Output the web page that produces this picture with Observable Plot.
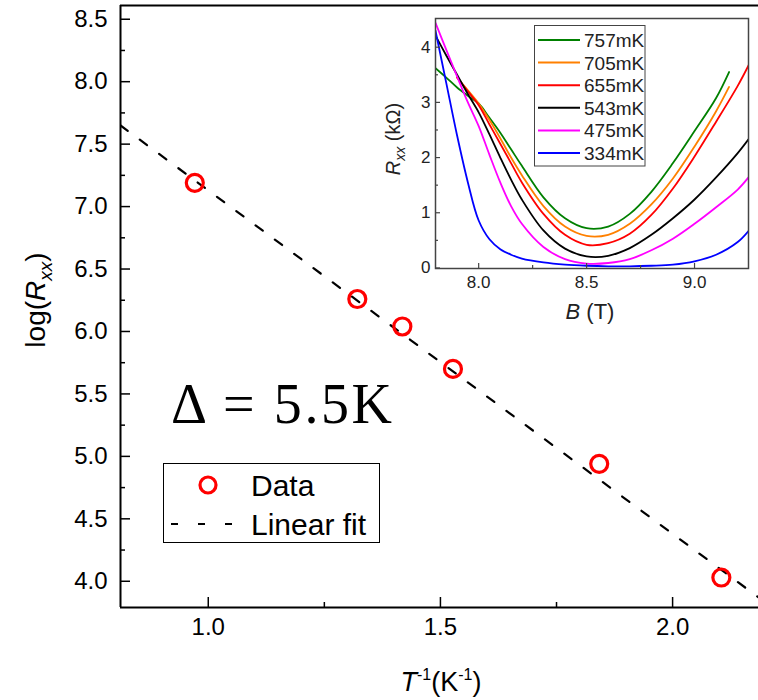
<!DOCTYPE html>
<html>
<head>
<meta charset="utf-8">
<script src="https://cdn.jsdelivr.net/npm/d3@7"></script>
<script src="https://cdn.jsdelivr.net/npm/@observablehq/plot@0.6"></script>
<style>
  body { margin: 0; background: white; }
  #wrap { position: relative; width: 758px; height: 700px; font-family: "Liberation Sans", Arial, sans-serif; }
  #wrap svg { position: absolute; }
</style>
</head>
<body>
<div id="wrap"></div>
<script>
// ---------- main data ----------
const invT = [0.971, 1.321, 1.418, 1.527, 1.842, 2.105];
const logR = [7.19, 6.26, 6.04, 5.70, 4.94, 4.03];
const fitSlope = -2.75;
const fitIntercept = 9.88;
const xDom = [0.811, 2.185];
const yDom = [3.79, 8.61];
const xMajor = [1.0, 1.5, 2.0];
const xMinor = [1.25, 1.75];
const yMajor = [4.0, 4.5, 5.0, 5.5, 6.0, 6.5, 7.0, 7.5, 8.0, 8.5];
const yMinor = [4.25, 4.75, 5.25, 5.75, 6.25, 6.75, 7.25, 7.75, 8.25];

// ---------- inset data ----------
const seriesNames = ["757mK", "705mK", "655mK", "543mK", "475mK", "334mK"];
const seriesColors = ["#008000", "#ff8000", "#ff0000", "#000000", "#ff00ff", "#0000ff"];
const gridB = [7.8, 7.85, 7.9, 7.95, 8.0, 8.05, 8.1, 8.15, 8.2, 8.3, 8.4, 8.5, 8.6, 8.7, 8.8, 8.9, 9.0, 9.1, 9.2, 9.25];
const B757 = [7.8, 7.85, 7.9, 7.95, 8.0, 8.05, 8.1, 8.15, 8.2, 8.3, 8.4, 8.5, 8.6, 8.7, 8.8, 8.9, 9.0, 9.1, 9.16];
const R757 = [3.62, 3.45, 3.27, 3.12, 2.98, 2.72, 2.45, 2.15, 1.85, 1.28, 0.90, 0.72, 0.75, 0.98, 1.38, 1.90, 2.48, 3.08, 3.55];
const B705 = [7.9, 7.95, 8.0, 8.05, 8.1, 8.15, 8.2, 8.3, 8.4, 8.5, 8.6, 8.7, 8.8, 8.9, 9.0, 9.1, 9.16];
const R705 = [3.45, 3.22, 2.98, 2.68, 2.35, 2.00, 1.68, 1.12, 0.75, 0.58, 0.60, 0.80, 1.15, 1.62, 2.20, 2.84, 3.28];
const B655 = [7.9, 7.95, 8.0, 8.05, 8.1, 8.15, 8.2, 8.3, 8.4, 8.5, 8.6, 8.7, 8.8, 8.9, 9.0, 9.1, 9.2, 9.25];
const R655 = [3.45, 3.20, 2.95, 2.60, 2.25, 1.90, 1.55, 0.98, 0.60, 0.42, 0.45, 0.62, 0.96, 1.44, 2.02, 2.65, 3.30, 3.67];
const R543 = [4.21, 3.85, 3.50, 3.15, 2.82, 2.42, 2.00, 1.60, 1.24, 0.68, 0.35, 0.21, 0.22, 0.36, 0.60, 0.90, 1.24, 1.64, 2.08, 2.33];
const R475 = [4.44, 3.95, 3.47, 3.00, 2.57, 2.05, 1.55, 1.12, 0.80, 0.38, 0.16, 0.08, 0.09, 0.16, 0.32, 0.53, 0.80, 1.10, 1.42, 1.64];
const R334 = [4.30, 3.35, 2.40, 1.55, 0.86, 0.52, 0.34, 0.24, 0.17, 0.10, 0.06, 0.04, 0.03, 0.03, 0.04, 0.06, 0.12, 0.24, 0.47, 0.67];

// ---------- build tables ----------
const pts = invT.map((x, i) => ({x, y: logR[i]}));
const fit = xDom.map(x => ({x, y: fitIntercept + fitSlope * x}));
const curves = [];
const addSeries = (name, Bs, Rs) => Bs.forEach((b, i) => curves.push({series: name, B: b, R: Rs[i]}));
addSeries("757mK", B757, R757);
addSeries("705mK", B705, R705);
addSeries("655mK", B655, R655);
addSeries("543mK", gridB, R543);
addSeries("475mK", gridB, R475);
addSeries("334mK", gridB, R334);

const W = 758, H = 700, mL = 120, mR = 0, mT = 5, mB = 93;
const fW = W - mL - mR, fH = H - mT - mB;
const font = "'Liberation Sans', Arial, sans-serif";

const main = Plot.plot({
  width: W, height: H,
  marginLeft: mL, marginRight: mR, marginTop: mT, marginBottom: mB,
  x: {domain: xDom},
  y: {domain: yDom},
  style: {fontFamily: font, background: "transparent", overflow: "visible"},
  marks: [
    Plot.ruleX([xDom[0]], {stroke: "black", strokeWidth: 2}),
    Plot.ruleY([yDom[0]], {stroke: "black", strokeWidth: 2}),
    Plot.ruleY([yDom[1]], {stroke: "black", strokeWidth: 2}),
    Plot.tickY(yMajor, {y: d => d, insetRight: fW - 10, stroke: "black", strokeWidth: 1.5}),
    Plot.tickY(yMinor, {y: d => d, insetRight: fW - 5, stroke: "black", strokeWidth: 1.5}),
    Plot.tickX(xMajor, {x: d => d, insetTop: fH - 10, stroke: "black", strokeWidth: 1.5}),
    Plot.tickX(xMinor, {x: d => d, insetTop: fH - 5, stroke: "black", strokeWidth: 1.5}),
    Plot.axisY(yMajor, {tickSize: 0, tickPadding: 13, tickFormat: d3.format(".1f"), fontSize: 24, fill: "black", label: null}),
    Plot.axisX(xMajor, {tickSize: 0, tickPadding: 10, tickFormat: d3.format(".1f"), fontSize: 24, fill: "black", label: null}),
    Plot.line(fit, {x: "x", y: "y", stroke: "black", strokeWidth: 2.2, strokeDasharray: "9,15", clip: true}),
    Plot.dot(pts, {x: "x", y: "y", r: 8.5, stroke: "#ff0000", strokeWidth: 3.2, fill: "none"})
  ]
});

const svgM = d3.select(main);
// y label
const yl = svgM.append("text").attr("transform", "translate(45,300) rotate(-90)")
  .attr("text-anchor", "middle").attr("font-size", 28).attr("font-family", font).attr("fill", "black");
yl.append("tspan").text("log(");
yl.append("tspan").attr("font-style", "italic").text("R");
yl.append("tspan").attr("font-style", "italic").attr("font-size", 19).attr("dy", 7).text("xx");
yl.append("tspan").attr("dy", -7).text(")");
// x label
const xl = svgM.append("text").attr("x", 441).attr("y", 691)
  .attr("text-anchor", "middle").attr("font-size", 27).attr("font-family", font).attr("fill", "black");
xl.append("tspan").attr("font-style", "italic").text("T");
xl.append("tspan").attr("font-size", 16).attr("dy", -11).text("-1");
xl.append("tspan").attr("dy", 11).text("(K");
xl.append("tspan").attr("font-size", 16).attr("dy", -11).text("-1");
xl.append("tspan").attr("dy", 11).text(")");
// gap annotation
svgM.append("text").attr("x", 171).attr("y", 423).attr("text-anchor", "start")
  .attr("font-family", "'Liberation Serif', 'DejaVu Serif', serif").attr("font-size", 56)
  .attr("textLength", 221).attr("lengthAdjust", "spacing").attr("fill", "black")
  .text("Δ = 5.5K");
// legend
const lg = svgM.append("g").attr("text-anchor", "start");
lg.append("rect").attr("x", 163.5).attr("y", 463.5).attr("width", 216).attr("height", 79)
  .attr("fill", "white").attr("stroke", "black").attr("stroke-width", 1);
lg.append("circle").attr("cx", 208).attr("cy", 485).attr("r", 8).attr("fill", "none")
  .attr("stroke", "#ff0000").attr("stroke-width", 3.2);
lg.append("line").attr("x1", 171).attr("x2", 237).attr("y1", 524).attr("y2", 524)
  .attr("stroke", "black").attr("stroke-width", 2).attr("stroke-dasharray", "7,20");
lg.append("text").attr("x", 251).attr("y", 496).attr("font-size", 30).attr("font-family", font).text("Data");
lg.append("text").attr("x", 251).attr("y", 535).attr("font-size", 30).attr("font-family", font).text("Linear fit");

// ---------- inset ----------
const iW = 378, iH = 330, iL = 55, iR = 10, iT = 18, iBm = 62;
const ifW = iW - iL - iR, ifH = iH - iT - iBm;
const inXMajor = [8.0, 8.5, 9.0];
const inXMinor = [8.25, 8.75];
const inYMajor = [0, 1, 2, 3, 4];
const inYMinor = [0.5, 1.5, 2.5, 3.5];
const inset = Plot.plot({
  width: iW, height: iH,
  marginLeft: iL, marginRight: iR, marginTop: iT, marginBottom: iBm,
  x: {domain: [7.8, 9.25]},
  y: {domain: [-0.01, 4.52]},
  color: {domain: seriesNames, range: seriesColors},
  style: {fontFamily: font, background: "transparent", overflow: "visible"},
  marks: [
    Plot.line(curves, {x: "B", y: "R", z: "series", stroke: "series", curve: "catmull-rom", strokeWidth: 1.8, clip: true}),
    Plot.frame({stroke: "#444", strokeWidth: 1.5}),
    Plot.tickY(inYMajor, {y: d => d, insetRight: ifW - 5, stroke: "#444", strokeWidth: 1.2}),
    Plot.tickY(inYMinor, {y: d => d, insetRight: ifW - 3, stroke: "#444", strokeWidth: 1.2}),
    Plot.tickX(inXMajor, {x: d => d, insetTop: ifH - 5, stroke: "#444", strokeWidth: 1.2}),
    Plot.tickX(inXMinor, {x: d => d, insetTop: ifH - 3, stroke: "#444", strokeWidth: 1.2}),
    Plot.axisY(inYMajor, {tickSize: 0, tickPadding: 5, tickFormat: d3.format("d"), fontSize: 17, fill: "#222", label: null}),
    Plot.axisX(inXMajor, {tickSize: 0, tickPadding: 7, tickFormat: d3.format(".1f"), fontSize: 17, fill: "#222", label: null})
  ]
});
const svgI = d3.select(inset);
const iyl = svgI.append("text").attr("transform", "translate(20,139) rotate(-90)")
  .attr("text-anchor", "middle").attr("font-size", 20).attr("font-family", font).attr("fill", "#222");
iyl.append("tspan").attr("font-style", "italic").text("R");
iyl.append("tspan").attr("font-style", "italic").attr("font-size", 14).attr("dy", 5).text("xx");
iyl.append("tspan").attr("dy", -5).text(" (kΩ)");
const ixl = svgI.append("text").attr("x", 210).attr("y", 319)
  .attr("text-anchor", "middle").attr("font-size", 22).attr("font-family", font).attr("fill", "#222");
ixl.append("tspan").attr("font-style", "italic").text("B");
ixl.append("tspan").text(" (T)");
// inset legend
const ilg = svgI.append("g").attr("text-anchor", "start");
ilg.append("rect").attr("x", 154.5).attr("y", 25.5).attr("width", 110.5).attr("height", 140.5)
  .attr("fill", "white").attr("stroke", "#444").attr("stroke-width", 1);
seriesNames.forEach((name, i) => {
  const yy = 40 + i * 22.6;
  ilg.append("line").attr("x1", 158).attr("x2", 200).attr("y1", yy).attr("y2", yy)
    .attr("stroke", seriesColors[i]).attr("stroke-width", 2);
  ilg.append("text").attr("x", 204).attr("y", yy + 7).attr("font-size", 19)
    .attr("font-family", font).attr("fill", "#222").text(name);
});

const wrap = document.getElementById("wrap");
main.style.left = "0px"; main.style.top = "0px";
inset.style.left = "380px"; inset.style.top = "0px";
wrap.appendChild(main);
wrap.appendChild(inset);
</script>
</body>
</html>
